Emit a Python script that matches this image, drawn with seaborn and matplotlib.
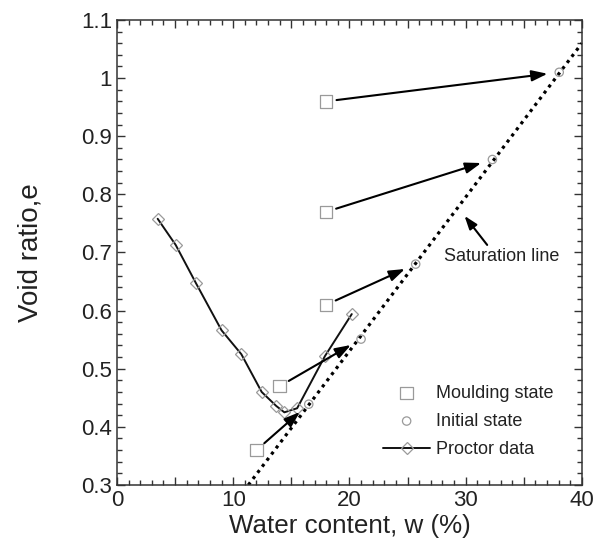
import matplotlib
matplotlib.use("Agg")
import matplotlib.pyplot as plt
from matplotlib.ticker import MultipleLocator, FuncFormatter
import seaborn as sns

# ---- data ----
proctor_w = [3.5, 5.05, 6.8, 9.0, 10.7, 12.45, 13.7, 14.4, 15.5, 17.9, 20.2]
proctor_e = [0.758, 0.713, 0.647, 0.566, 0.525, 0.460, 0.436, 0.425, 0.432, 0.522, 0.594]

moulding_w = [12.0, 14.0, 18.0, 18.0, 18.0]
moulding_e = [0.36, 0.47, 0.61, 0.77, 0.96]

initial_w = [16.5, 21.0, 25.7, 32.3, 38.05]
initial_e = [0.439, 0.551, 0.680, 0.860, 1.010]

sat_w = [11.3, 40.0]
sat_e = [0.30, 1.06]

sat_label = "Saturation line"
sat_text_pos = (33.1, 0.693)
sat_arrow_tail = (31.85, 0.713)
sat_arrow_tip = (29.9, 0.763)

x_label = "Water content, w (%)"
y_label = "Void ratio,e"

# ---- style ----
sns.set_style("ticks")
plt.rcParams["font.family"] = ["Liberation Sans", "DejaVu Sans"]
TXT = "#222222"

fig = plt.figure(figsize=(6.03, 5.49), dpi=100)
ax = fig.add_axes([0.194, 0.1166, 0.771, 0.847])

grey = "#9a9a9a"

# saturation line
sns.lineplot(x=sat_w, y=sat_e, ax=ax, color="black", linestyle=(0, (1, 1.4)),
             linewidth=2.3, legend=False, sort=False, zorder=2)

# proctor curve
sns.lineplot(x=proctor_w, y=proctor_e, ax=ax, color="#111111", linewidth=1.4,
             marker="D", markersize=6.5, markerfacecolor="none",
             markeredgecolor=grey, markeredgewidth=0.9, sort=False,
             label="Proctor data", zorder=3)

# moulding state
sns.scatterplot(x=moulding_w, y=moulding_e, ax=ax, marker="s", s=80,
                facecolor="none", edgecolor=grey, linewidth=0.9,
                label="Moulding state", zorder=4)

# initial state
sns.scatterplot(x=initial_w, y=initial_e, ax=ax, marker="o", s=36,
                facecolor="none", edgecolor=grey, linewidth=0.9,
                label="Initial state", zorder=4)

# arrows from moulding to initial state
for mw, me, iw, ie in zip(moulding_w, moulding_e, initial_w, initial_e):
    ax.annotate("", xy=(iw, ie), xytext=(mw, me),
                arrowprops=dict(arrowstyle="-|>,head_length=0.95,head_width=0.33",
                                color="black", lw=1.5, shrinkA=7.5, shrinkB=8.5),
                zorder=5)

# saturation line label
ax.annotate("", xy=sat_arrow_tip, xytext=sat_arrow_tail,
            arrowprops=dict(arrowstyle="-|>,head_length=0.8,head_width=0.28",
                            color="black", lw=1.5, shrinkA=0, shrinkB=0))
ax.text(*sat_text_pos, sat_label, ha="center", va="center", fontsize=13, color=TXT)

# axes
ax.set_xlim(0, 40)
ax.set_ylim(0.3, 1.1)
ax.xaxis.set_major_locator(MultipleLocator(5))
ax.xaxis.set_minor_locator(MultipleLocator(1))
ax.xaxis.set_major_formatter(FuncFormatter(lambda v, p: f"{v:.0f}" if abs(v % 10) < 1e-6 else ""))
ax.yaxis.set_major_locator(MultipleLocator(0.1))
ax.yaxis.set_minor_locator(MultipleLocator(0.02))
ax.yaxis.set_major_formatter(FuncFormatter(lambda v, p: f"{v:g}" if abs(v - 1) > 1e-6 else "1"))

ax.tick_params(which="both", direction="in", top=True, right=True, colors="#333333",
               labelcolor=TXT, labelsize=16, width=1.0)
ax.tick_params(which="major", length=6)
ax.tick_params(which="minor", length=3.5)
for s in ax.spines.values():
    s.set_visible(True)
    s.set_color("#333333")
    s.set_linewidth(1.1)

ax.set_xlabel(x_label, fontsize=18.7, color=TXT, labelpad=2)
ax.set_ylabel(y_label, fontsize=20, color=TXT, labelpad=27)

# legend order: Moulding, Initial, Proctor
h, l = ax.get_legend_handles_labels()
order = [l.index("Moulding state"), l.index("Initial state"), l.index("Proctor data")]
ax.legend([h[i] for i in order], [l[i] for i in order], loc="center left",
          bbox_to_anchor=(0.557, 0.137), frameon=False, fontsize=13,
          handlelength=2.6, handletextpad=0.3, labelspacing=0.62,
          borderaxespad=0, labelcolor=TXT)

fig.savefig("out.png", dpi=100)
